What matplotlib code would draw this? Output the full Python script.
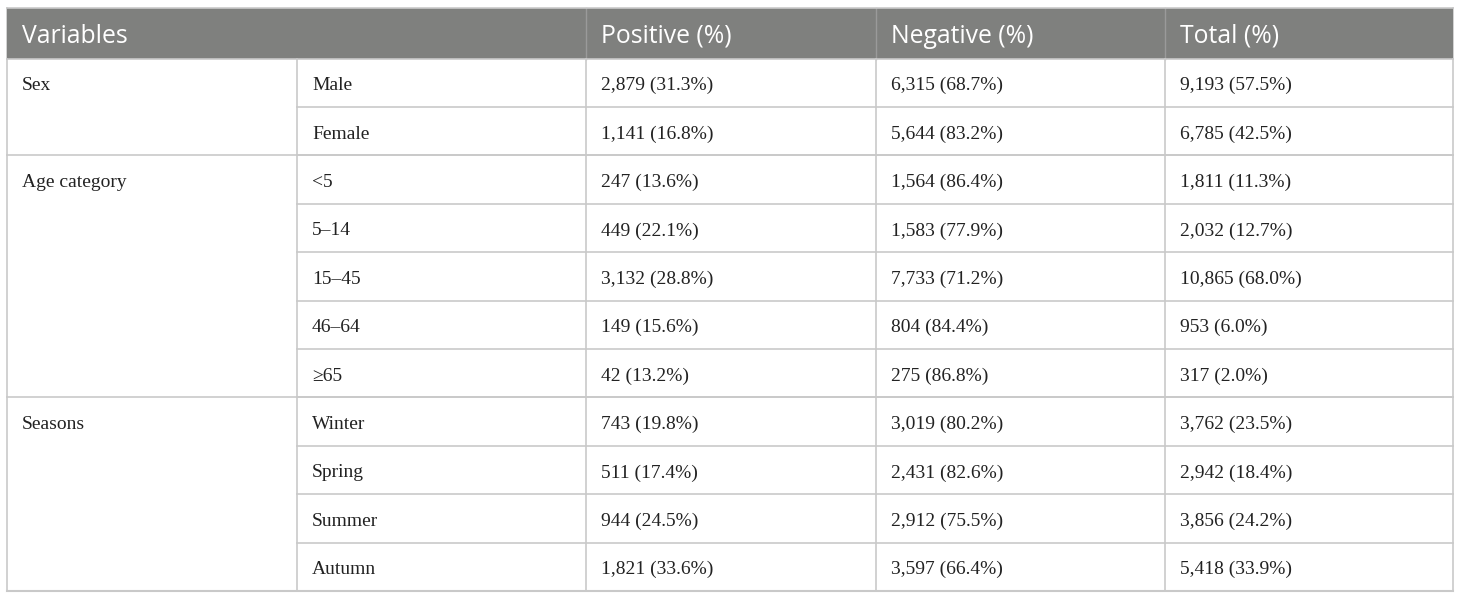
import matplotlib
matplotlib.use("Agg")
import matplotlib.pyplot as plt
from matplotlib.patches import Rectangle

# ---- data ----
headers = ["Variables", "Positive (%)", "Negative (%)", "Total (%)"]
groups = ["Sex", "Age category", "Seasons"]
group_sizes = [2, 5, 4]
subcats = ["Male", "Female", "<5", "5–14", "15–45", "46–64", "≥65",
           "Winter", "Spring", "Summer", "Autumn"]
pos_n = [2879, 1141, 247, 449, 3132, 149, 42, 743, 511, 944, 1821]
pos_pct = [31.3, 16.8, 13.6, 22.1, 28.8, 15.6, 13.2, 19.8, 17.4, 24.5, 33.6]
neg_n = [6315, 5644, 1564, 1583, 7733, 804, 275, 3019, 2431, 2912, 3597]
neg_pct = [68.7, 83.2, 86.4, 77.9, 71.2, 84.4, 86.8, 80.2, 82.6, 75.5, 66.4]
tot_n = [9193, 6785, 1811, 2032, 10865, 953, 317, 3762, 2942, 3856, 5418]
tot_pct = [57.5, 42.5, 11.3, 12.7, 68.0, 6.0, 2.0, 23.5, 18.4, 24.2, 33.9]

def fmt(n, p):
    return f"{n:,} ({p:.1f}%)"

# ---- layout (pixel coordinates) ----
W, H = 1460, 599
col_x = [7, 297, 586, 876, 1165, 1453]
top = 8
hdr_bot = 58.5
bottom = 591
nrows = len(subcats)
rh = (bottom - hdr_bot) / nrows
pad = 15

fig = plt.figure(figsize=(W / 100, H / 100), dpi=100)
ax = fig.add_axes([0, 0, 1, 1])
ax.set_xlim(0, W)
ax.set_ylim(H, 0)
ax.axis("off")

hdr_bg = "#7f807e"
line_c = "#c9c9c9"
txt_c = "#222222"
hdr_font = "Open Sans"
body_font = "Liberation Serif"

# header background
ax.add_patch(Rectangle((col_x[0], top), col_x[-1] - col_x[0], hdr_bot - top,
                       facecolor=hdr_bg, edgecolor="none", zorder=1))
# header separators
for x in col_x[2:-1]:
    ax.plot([x, x], [top, hdr_bot], color="#9a9a9a", lw=1.0, zorder=2)

hdr_xs = [col_x[0], col_x[2], col_x[3], col_x[4]]
for hx, h in zip(hdr_xs, headers):
    ax.text(hx + pad, (top + hdr_bot) / 2 + 3, h, color="white", fontsize=17.8,
            family=hdr_font, ha="left", va="center", zorder=3)

# body
row_y = [hdr_bot + i * rh for i in range(nrows + 1)]
for i in range(1, nrows):
    ax.plot([col_x[1], col_x[-1]], [row_y[i]] * 2, color=line_c, lw=1.2, zorder=2)
start = 0
for g, s in zip(groups, group_sizes):
    y0 = row_y[start]
    ax.plot([col_x[0], col_x[-1]], [y0, y0], color=line_c, lw=1.2, zorder=2)
    ax.text(col_x[0] + pad, y0 + rh / 2 + 3, g, fontsize=14, family=body_font,
            color=txt_c, ha="left", va="center", zorder=3)
    start += s
ax.plot([col_x[0], col_x[-1]], [bottom, bottom], color=line_c, lw=1.5, zorder=2)
for x in col_x:
    ax.plot([x, x], [hdr_bot, bottom], color=line_c, lw=1.2, zorder=2)
ax.plot([col_x[0], col_x[-1]], [top, top], color=line_c, lw=1.2, zorder=2)
ax.plot([col_x[0], col_x[0]], [top, hdr_bot], color=line_c, lw=1.2, zorder=0)
ax.plot([col_x[-1], col_x[-1]], [top, hdr_bot], color=line_c, lw=1.2, zorder=0)

for i in range(nrows):
    yc = row_y[i] + rh / 2 + 3
    cells = [subcats[i], fmt(pos_n[i], pos_pct[i]),
             fmt(neg_n[i], neg_pct[i]), fmt(tot_n[i], tot_pct[i])]
    for j, c in enumerate(cells):
        ax.text(col_x[j + 1] + pad, yc, c, fontsize=14, family=body_font,
                color=txt_c, ha="left", va="center", zorder=3)

fig.savefig("out.png", dpi=100, facecolor="white")
